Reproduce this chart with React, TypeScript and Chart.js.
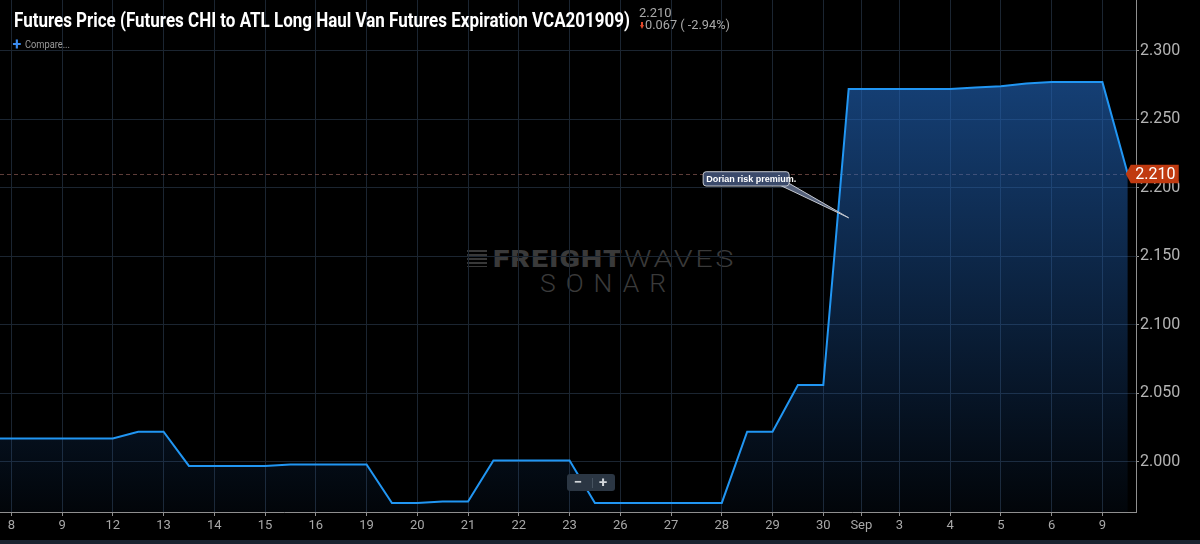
import React, { useEffect, useLayoutEffect, useRef } from "react";
import { Chart, registerables } from "chart.js";

Chart.register(...registerables);

// ---------- data ----------
const tickPositions = [0, 1, 2, 3, 4, 5, 6, 7, 8, 9, 10, 11, 12, 13, 14, 15, 16, 16.75, 17.5, 18.5, 19.5, 20.5, 21.5];
const tickLabels = ["8", "9", "12", "13", "14", "15", "16", "19", "20", "21", "22", "23", "26", "27", "28", "29", "30", "Sep", "3", "4", "5", "6", "9"];
const pointPositions = [-0.5, 0, 1, 2, 2.5, 3, 3.5, 4, 5, 5.5, 6, 7, 7.5, 8, 8.5, 9, 9.5, 10, 11, 11.5, 12, 13, 14, 14.5, 15, 15.5, 16, 16.5, 17, 17.5, 18, 18.5, 19, 19.5, 20, 20.5, 21, 21.5, 22];
const priceValues = [2.017, 2.017, 2.017, 2.017, 2.022, 2.022, 1.997, 1.997, 1.997, 1.998, 1.998, 1.998, 1.970, 1.970, 1.971, 1.971, 2.001, 2.001, 2.001, 1.970, 1.970, 1.970, 1.970, 2.022, 2.022, 2.056, 2.056, 2.272, 2.272, 2.272, 2.272, 2.272, 2.273, 2.274, 2.276, 2.277, 2.277, 2.277, 2.210];
const yTickValues = [2.0, 2.05, 2.1, 2.15, 2.2, 2.25, 2.3];
const xMin = -0.223;
const xMax = 22.162;
const yMin = 1.9634;
const yMax = 2.3369;
const lastPrice = 2.21;
const lastPriceLabel = "2.210";
const changeLabel = "0.067 ( -2.94%)";
const titleText = "Futures Price (Futures CHI to ATL Long Haul Van Futures Expiration VCA201909)";
const annotationText = "Dorian risk premium.";
const annotationX = 16.5;
const annotationY = 2.178;

// ---------- helpers ----------
function FitText({ text, width, style }: { text: string; width: number; style: React.CSSProperties }) {
  const ref = useRef<HTMLSpanElement>(null);
  useLayoutEffect(() => {
    const measure = () => {
      const el = ref.current;
      if (!el) return;
      el.style.transform = "none";
      const w = el.getBoundingClientRect().width;
      if (w > 0) el.style.transform = `scaleX(${width / w})`;
    };
    measure();
    const fonts = (document as any).fonts;
    if (fonts && fonts.ready) fonts.ready.then(measure);
  }, [text, width]);
  return (
    <span
      ref={ref}
      style={{ display: "block", width: "max-content", whiteSpace: "nowrap", transformOrigin: "0 0", ...style }}
    >
      {text}
    </span>
  );
}

const overlayPlugin = {
  id: "overlays",
  beforeDatasetsDraw(chart: any) {
    const { ctx, chartArea, scales } = chart;
    const y = scales.y;
    const x = scales.x;
    const py = Math.round(y.getPixelForValue(lastPrice)) + 0.5;
    const lx = x.getPixelForValue(pointPositions[pointPositions.length - 1]);
    ctx.save();
    ctx.setLineDash([4, 3]);
    ctx.strokeStyle = "rgba(125,82,76,0.75)";
    ctx.lineWidth = 1;
    ctx.beginPath();
    ctx.moveTo(chartArea.left, py);
    ctx.lineTo(lx, py);
    ctx.stroke();
    ctx.restore();
  },
  afterDraw(chart: any) {
    const { ctx, scales } = chart;
    const x = scales.x;
    const y = scales.y;
    // price label
    const py = y.getPixelForValue(lastPrice);
    const tip = x.getPixelForValue(pointPositions[pointPositions.length - 1]) - 2;
    ctx.save();
    ctx.fillStyle = "#c03a10";
    ctx.beginPath();
    ctx.moveTo(tip, py);
    ctx.lineTo(tip + 5, py - 9.2);
    ctx.lineTo(tip + 53, py - 9.2);
    ctx.lineTo(tip + 53, py + 9.2);
    ctx.lineTo(tip + 5, py + 9.2);
    ctx.closePath();
    ctx.fill();
    ctx.fillStyle = "#ffffff";
    ctx.font = "16px Roboto";
    ctx.textAlign = "center";
    ctx.textBaseline = "middle";
    ctx.fillText(lastPriceLabel, tip + 29.5, py + 1);
    ctx.restore();

    // annotation callout
    const ax = x.getPixelForValue(annotationX);
    const ay = y.getPixelForValue(annotationY);
    const bl = ax - 146;
    const bt = ay - 46.6;
    const bw = 86;
    const bh = 14.3;
    ctx.save();
    ctx.lineWidth = 1;
    ctx.strokeStyle = "#c4c8d0";
    ctx.fillStyle = "#56627c";
    ctx.beginPath();
    ctx.moveTo(bl + bw - 8, bt + bh);
    ctx.lineTo(ax, ay);
    ctx.lineTo(bl + bw - 1, bt + bh - 3);
    ctx.closePath();
    ctx.fill();
    ctx.stroke();
    ctx.beginPath();
    (ctx as any).roundRect(bl + 0.5, bt + 0.5, bw, bh, 3);
    ctx.fillStyle = "#3b4a6b";
    ctx.fill();
    ctx.stroke();
    ctx.fillStyle = "#ffffff";
    ctx.font = "bold 9px 'Liberation Sans'";
    ctx.textAlign = "left";
    ctx.textBaseline = "middle";
    ctx.fillText(annotationText, bl + 3.5, bt + bh / 2 + 1);
    ctx.restore();
  },
};

export default function App() {
  const canvasRef = useRef<HTMLCanvasElement>(null);

  useEffect(() => {
    document.body.style.margin = "0";
    document.body.style.background = "#000";
    const canvas = canvasRef.current;
    if (!canvas) return;
    Chart.defaults.font.family = "Roboto";
    const chart = new Chart(canvas, {
      type: "line",
      data: {
        datasets: [
          {
            data: pointPositions.map((p, i) => ({ x: p, y: priceValues[i] })),
            borderColor: "#2196f3",
            borderWidth: 2,
            pointRadius: 0,
            tension: 0,
            fill: "start",
            backgroundColor: (c: any) => {
              const { chart: ch } = c;
              const area = ch.chartArea;
              if (!area) return "rgba(33,100,185,0.3)";
              const g = ch.ctx.createLinearGradient(0, area.top, 0, area.bottom);
              g.addColorStop(0, "rgba(33,100,185,0.74)");
              g.addColorStop(1, "rgba(33,100,185,0.05)");
              return g;
            },
          },
        ],
      },
      options: {
        animation: false,
        responsive: false,
        layout: { padding: 0 },
        plugins: { legend: { display: false }, tooltip: { enabled: false } },
        scales: {
          x: {
            type: "linear",
            min: xMin,
            max: xMax,
            position: "bottom",
            border: { display: true, color: "#8f8f8f", width: 1 },
            grid: { color: "#1b2531", lineWidth: 1, drawTicks: true, tickLength: 4, tickColor: "#8f8f8f" },
            ticks: {
              color: "#a8a8a8",
              font: { family: "Roboto", size: 13 },
              padding: 2,
              autoSkip: false,
              maxRotation: 0,
              callback: (_v: any, i: number) => tickLabels[i],
            },
            afterBuildTicks: (s: any) => {
              s.ticks = tickPositions.map((v) => ({ value: v }));
            },
            afterFit: (s: any) => {
              s.height = 28;
              s.paddingLeft = 0;
              s.paddingRight = 0;
              s.paddingTop = 0;
              s.paddingBottom = 0;
            },
          },
          y: {
            type: "linear",
            position: "right",
            min: yMin,
            max: yMax,
            border: { display: true, color: "#8f8f8f", width: 1 },
            grid: { color: "#1b2531", lineWidth: 1, drawTicks: true, tickLength: 3, tickColor: "#8f8f8f" },
            ticks: {
              color: "#b4b4b4",
              font: { family: "Roboto", size: 16 },
              padding: 1,
              callback: (v: any) => Number(v).toFixed(3),
            },
            afterBuildTicks: (s: any) => {
              s.ticks = yTickValues.map((v) => ({ value: v }));
            },
            afterFit: (s: any) => {
              s.width = 64;
              s.paddingLeft = 0;
              s.paddingRight = 0;
              s.paddingTop = 0;
              s.paddingBottom = 0;
            },
          },
        },
      },
      plugins: [overlayPlugin],
    } as any);
    return () => chart.destroy();
  }, []);

  return (
    <div style={{ position: "relative", width: 1200, height: 544, background: "#000", overflow: "hidden", fontFamily: "Roboto" }}>
      {/* watermark */}
      <div style={{ position: "absolute", left: 0, top: 0, zIndex: 0 }}>
        <div
          style={{
            position: "absolute",
            left: 467,
            top: 250,
            width: 20,
            height: 17,
            background: "repeating-linear-gradient(to bottom, #383838 0 2px, transparent 2px 4px)",
          }}
        />
        <div style={{ position: "absolute", left: 493, top: 246.8 }}>
          <FitText text="FREIGHT" width={130} style={{ fontSize: 24, lineHeight: "24px", fontWeight: 900, color: "#3a3a3a", letterSpacing: 1 }} />
        </div>
        <div style={{ position: "absolute", left: 624, top: 246.8 }}>
          <FitText text="WAVES" width={112} style={{ fontSize: 24, lineHeight: "24px", fontWeight: 300, color: "#3a3a3a", letterSpacing: 2 }} />
        </div>
        <div style={{ position: "absolute", left: 540, top: 269.5 }}>
          <FitText text="SONAR" width={136} style={{ fontSize: 26.5, lineHeight: "26.5px", fontWeight: 300, color: "#3a3a3a", letterSpacing: 10 }} />
        </div>
      </div>

      <canvas
        ref={canvasRef}
        width={1200}
        height={540}
        style={{ position: "absolute", left: 0, top: 0, width: 1200, height: 540, zIndex: 1 }}
      />

      <div style={{ position: "absolute", left: 0, top: 540, width: 1200, height: 4, background: "#1a2430" }} />

      {/* header */}
      <div style={{ position: "absolute", left: 14, top: 9.9, zIndex: 2 }}>
        <FitText text={titleText} width={616} style={{ fontSize: 20, lineHeight: "20px", fontWeight: 700, color: "#ffffff" }} />
      </div>
      <div style={{ position: "absolute", left: 639, top: 5.8, zIndex: 2, fontSize: 13, lineHeight: "13px", color: "#a9a9a9" }}>
        {lastPriceLabel}
      </div>
      <div style={{ position: "absolute", left: 639.5, top: 22, zIndex: 2, width: 5, height: 7 }}>
        <div style={{ position: "absolute", left: 1.5, top: 0, width: 2, height: 3, background: "#e0482a" }} />
        <div
          style={{
            position: "absolute",
            left: 0,
            top: 3,
            width: 0,
            height: 0,
            borderLeft: "2.5px solid transparent",
            borderRight: "2.5px solid transparent",
            borderTop: "4px solid #e0482a",
          }}
        />
      </div>
      <div style={{ position: "absolute", left: 645, top: 18.1, zIndex: 2 }}>
        <FitText text={changeLabel} width={85} style={{ fontSize: 13, lineHeight: "13px", color: "#a9a9a9" }} />
      </div>
      <div style={{ position: "absolute", left: 12.5, top: 36.5, zIndex: 2, fontSize: 16, lineHeight: "16px", fontWeight: 700, color: "#3b8cf0" }}>
        +
      </div>
      <div style={{ position: "absolute", left: 25, top: 39.5, zIndex: 2 }}>
        <FitText text="Compare..." width={45} style={{ fontSize: 10, lineHeight: "10px", color: "#9b9b9b" }} />
      </div>

      {/* zoom buttons */}
      <div
        style={{
          position: "absolute",
          left: 567,
          top: 474,
          width: 48,
          height: 17,
          background: "#2b3643",
          borderRadius: 3,
          zIndex: 3,
        }}
      >
        <div style={{ position: "absolute", left: 5, top: 0, width: 12, height: 17, lineHeight: "16px", textAlign: "center", color: "#d2d6da", fontWeight: 700, fontSize: 15 }}>
          −
        </div>
        <div style={{ position: "absolute", left: 24.5, top: 4, width: 1, height: 10, background: "#46525f" }} />
        <div style={{ position: "absolute", left: 30, top: 0, width: 12, height: 17, lineHeight: "16px", textAlign: "center", color: "#d2d6da", fontWeight: 700, fontSize: 15 }}>
          +
        </div>
      </div>
    </div>
  );
}
